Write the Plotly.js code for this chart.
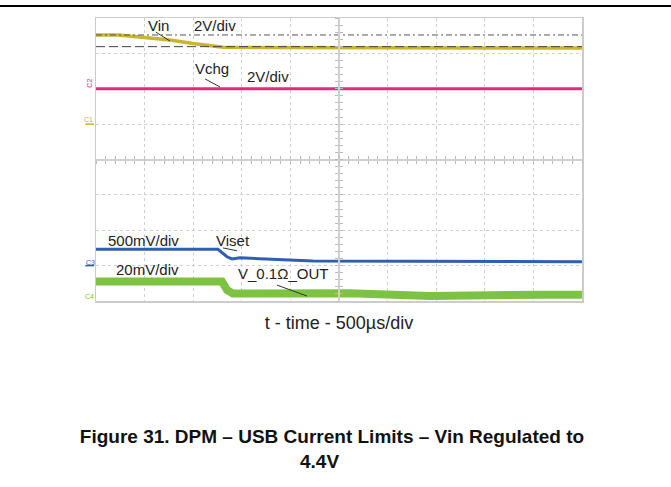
<!DOCTYPE html>
<html>
<head>
<meta charset="utf-8">
<script src="https://cdn.plot.ly/plotly-3.0.1.min.js"></script>
<style>html,body{margin:0;padding:0;background:#fff;}#chart{width:671px;height:487px;}</style>
</head>
<body>
<div id="chart"></div>
<script>
// time in microseconds (10 divisions x 500 us), amplitude in screen divisions (0..8)
const T_VIN   = [0, 226, 525, 761, 998, 1173, 1307, 5000];
const VIN     = [7.52, 7.52, 7.44, 7.38, 7.28, 7.21, 7.17, 7.15];
const T_VCHG  = [0, 5000];
const VCHG    = [6.0, 6.0];
const T_VISET = [0, 1255, 1348, 1399, 1481, 1893, 2233, 5000];
const VISET   = [1.46, 1.46, 1.25, 1.19, 1.22, 1.16, 1.13, 1.11];
const T_VOUT  = [0, 1296, 1348, 1409, 2613, 3436, 4599, 5000];
const VOUT    = [0.55, 0.55, 0.31, 0.21, 0.22, 0.14, 0.18, 0.18];
const CURSOR_DASHDOT = 7.52;
const CURSOR_DASH    = 7.19;
const T_RANGE = [0, 5000];
const GROUND = {C1: 5, C2: 6, C3: 1, C4: 0};

const FONT = 'Liberation Sans, Arial, sans-serif';
const COLORS = {vin:'#c9b62c', vchg:'#e8287c', viset:'#2f5fb2', vout:'#7cc343'};

const traces = [
  {x:T_VIN, y:VIN, mode:'lines', line:{color:COLORS.vin, width:3.5}, name:'Vin'},
  {x:T_VCHG, y:VCHG, mode:'lines', line:{color:COLORS.vchg, width:3}, name:'Vchg'},
  {x:T_VISET, y:VISET, mode:'lines', line:{color:COLORS.viset, width:3}, name:'Viset'},
  {x:T_VOUT, y:VOUT, mode:'lines', line:{color:COLORS.vout, width:8}, name:'V_0.1Ω_OUT'},
  {x:T_RANGE, y:[CURSOR_DASHDOT, CURSOR_DASHDOT], mode:'lines', line:{color:'#555', width:1, dash:'6px,3px,2px,3px'}, name:'cursor1'},
  {x:T_RANGE, y:[CURSOR_DASH, CURSOR_DASH], mode:'lines', line:{color:'#444', width:1, dash:'9px,4px'}, name:'cursor2'},
  {x:[null], y:[null], xaxis:'x2', yaxis:'y2', mode:'lines', showlegend:false, hoverinfo:'skip'},
  {x:[null], y:[null], xaxis:'x3', yaxis:'y3', mode:'lines', showlegend:false, hoverinfo:'skip'}
];

const centerX = (side) => ({overlaying:'x', anchor:'free', position:0.5, range:T_RANGE, dtick:100,
  ticks:side, ticklen:3, tickwidth:1, tickcolor:'#bbbbbb', showline:true, linecolor:'#cfcfcf', linewidth:2,
  showgrid:false, zeroline:false, showticklabels:false, fixedrange:true});
const centerY = (side) => ({overlaying:'y', anchor:'free', position:0.5, range:[0,8], dtick:0.2,
  ticks:side, ticklen:3, tickwidth:1, tickcolor:'#bbbbbb', showline:true, linecolor:'#cfcfcf', linewidth:2,
  showgrid:false, zeroline:false, showticklabels:false, fixedrange:true});

const txt = (text, x, y, size) => ({text, x, y, xref:'x', yref:'y', showarrow:false,
  xanchor:'center', yanchor:'middle', font:{family:FONT, size:size||15, color:'#222'}});

const annotations = [
  txt('Vin', 648, 7.80),
  txt('2V/div', 1224, 7.80),
  txt('Vchg', 1193, 6.58),
  txt('2V/div', 1770, 6.36),
  txt('500mV/div', 484, 1.70),
  txt('Viset', 1409, 1.72),
  txt('20mV/div', 525, 0.90),
  txt('V_0.1Ω_OUT', 1924, 0.79),
  {text:'C1', x:-0.016, y:GROUND.C1 + 0.12, xref:'paper', yref:'y', showarrow:false, xanchor:'center', yanchor:'middle', font:{family:FONT, size:7, color:COLORS.vin}},
  {text:'C2', x:-0.014, y:GROUND.C2 + 0.15, xref:'paper', yref:'y', showarrow:false, textangle:-90, xanchor:'center', yanchor:'middle', font:{family:FONT, size:7, color:COLORS.vchg}},
  {text:'C3', x:-0.012, y:GROUND.C3 + 0.1, xref:'paper', yref:'y', showarrow:false, xanchor:'center', yanchor:'middle', font:{family:FONT, size:7, color:COLORS.viset}},
  {text:'C4', x:-0.014, y:GROUND.C4 + 0.12, xref:'paper', yref:'y', showarrow:false, xanchor:'center', yanchor:'middle', font:{family:FONT, size:7, color:COLORS.vout}},
  {text:'<b>4.4V</b>', x:(319 - 96) / 486, y:(301 - 461) / 283, xref:'paper', yref:'paper', showarrow:false, xanchor:'center', yanchor:'middle', font:{family:FONT, size:19, color:'#111'}}
];

const leaders = [
  [617, 7.60, 761, 7.35],
  [1121, 6.28, 1276, 6.05],
  [1307, 1.50, 1451, 1.42],
  [1862, 0.45, 2171, 0.14]
];

const shapes = leaders.map(l => ({type:'line', xref:'x', yref:'y', x0:l[0], y0:l[1], x1:l[2], y1:l[3], line:{color:'#333', width:1}}));
// channel ground markers
[['C1',COLORS.vin],['C3',COLORS.viset]].forEach(([c,col]) => shapes.push({type:'line', xref:'paper', yref:'y', x0:-0.022, x1:-0.004, y0:GROUND[c], y1:GROUND[c], line:{color:col, width:1.5}}));
// page rule at top
shapes.push({type:'line', xref:'paper', yref:'paper', x0:-96/486, x1:575/486, y0:(301-6)/283, y1:(301-6)/283, line:{color:'#000', width:2}});

const layout = {
  width:671, height:487,
  margin:{l:96, r:89, t:18, b:186, pad:0},
  paper_bgcolor:'#fff', plot_bgcolor:'#fff',
  showlegend:false,
  font:{family:FONT, color:'#222'},
  title:{text:'<b>Figure 31. DPM – USB Current Limits – Vin Regulated to</b>', x:332/671, xanchor:'center', xref:'container',
         y:1 - 436/487, yanchor:'middle', yref:'container', font:{family:FONT, size:19, color:'#111'}},
  xaxis:{range:T_RANGE, dtick:500, showgrid:true, gridcolor:'#d0d0d0', griddash:'dot', gridwidth:1,
         showline:true, mirror:true, linecolor:'#cccccc', linewidth:1.5, zeroline:false, showticklabels:false, ticks:'',
         title:{text:'t - time - 500µs/div', standoff:15, font:{family:FONT, size:18, color:'#222'}}, fixedrange:true},
  yaxis:{range:[0,8], dtick:1, showgrid:true, gridcolor:'#d0d0d0', griddash:'dot', gridwidth:1,
         showline:true, mirror:true, linecolor:'#cccccc', linewidth:1.5, zeroline:false, showticklabels:false, ticks:'', fixedrange:true},
  xaxis2:centerX('outside'), yaxis2:centerY('outside'),
  xaxis3:centerX('inside'), yaxis3:centerY('inside'),
  annotations, shapes
};

Plotly.newPlot('chart', traces, layout, {staticPlot:true, displayModeBar:false});
</script>
</body>
</html>
